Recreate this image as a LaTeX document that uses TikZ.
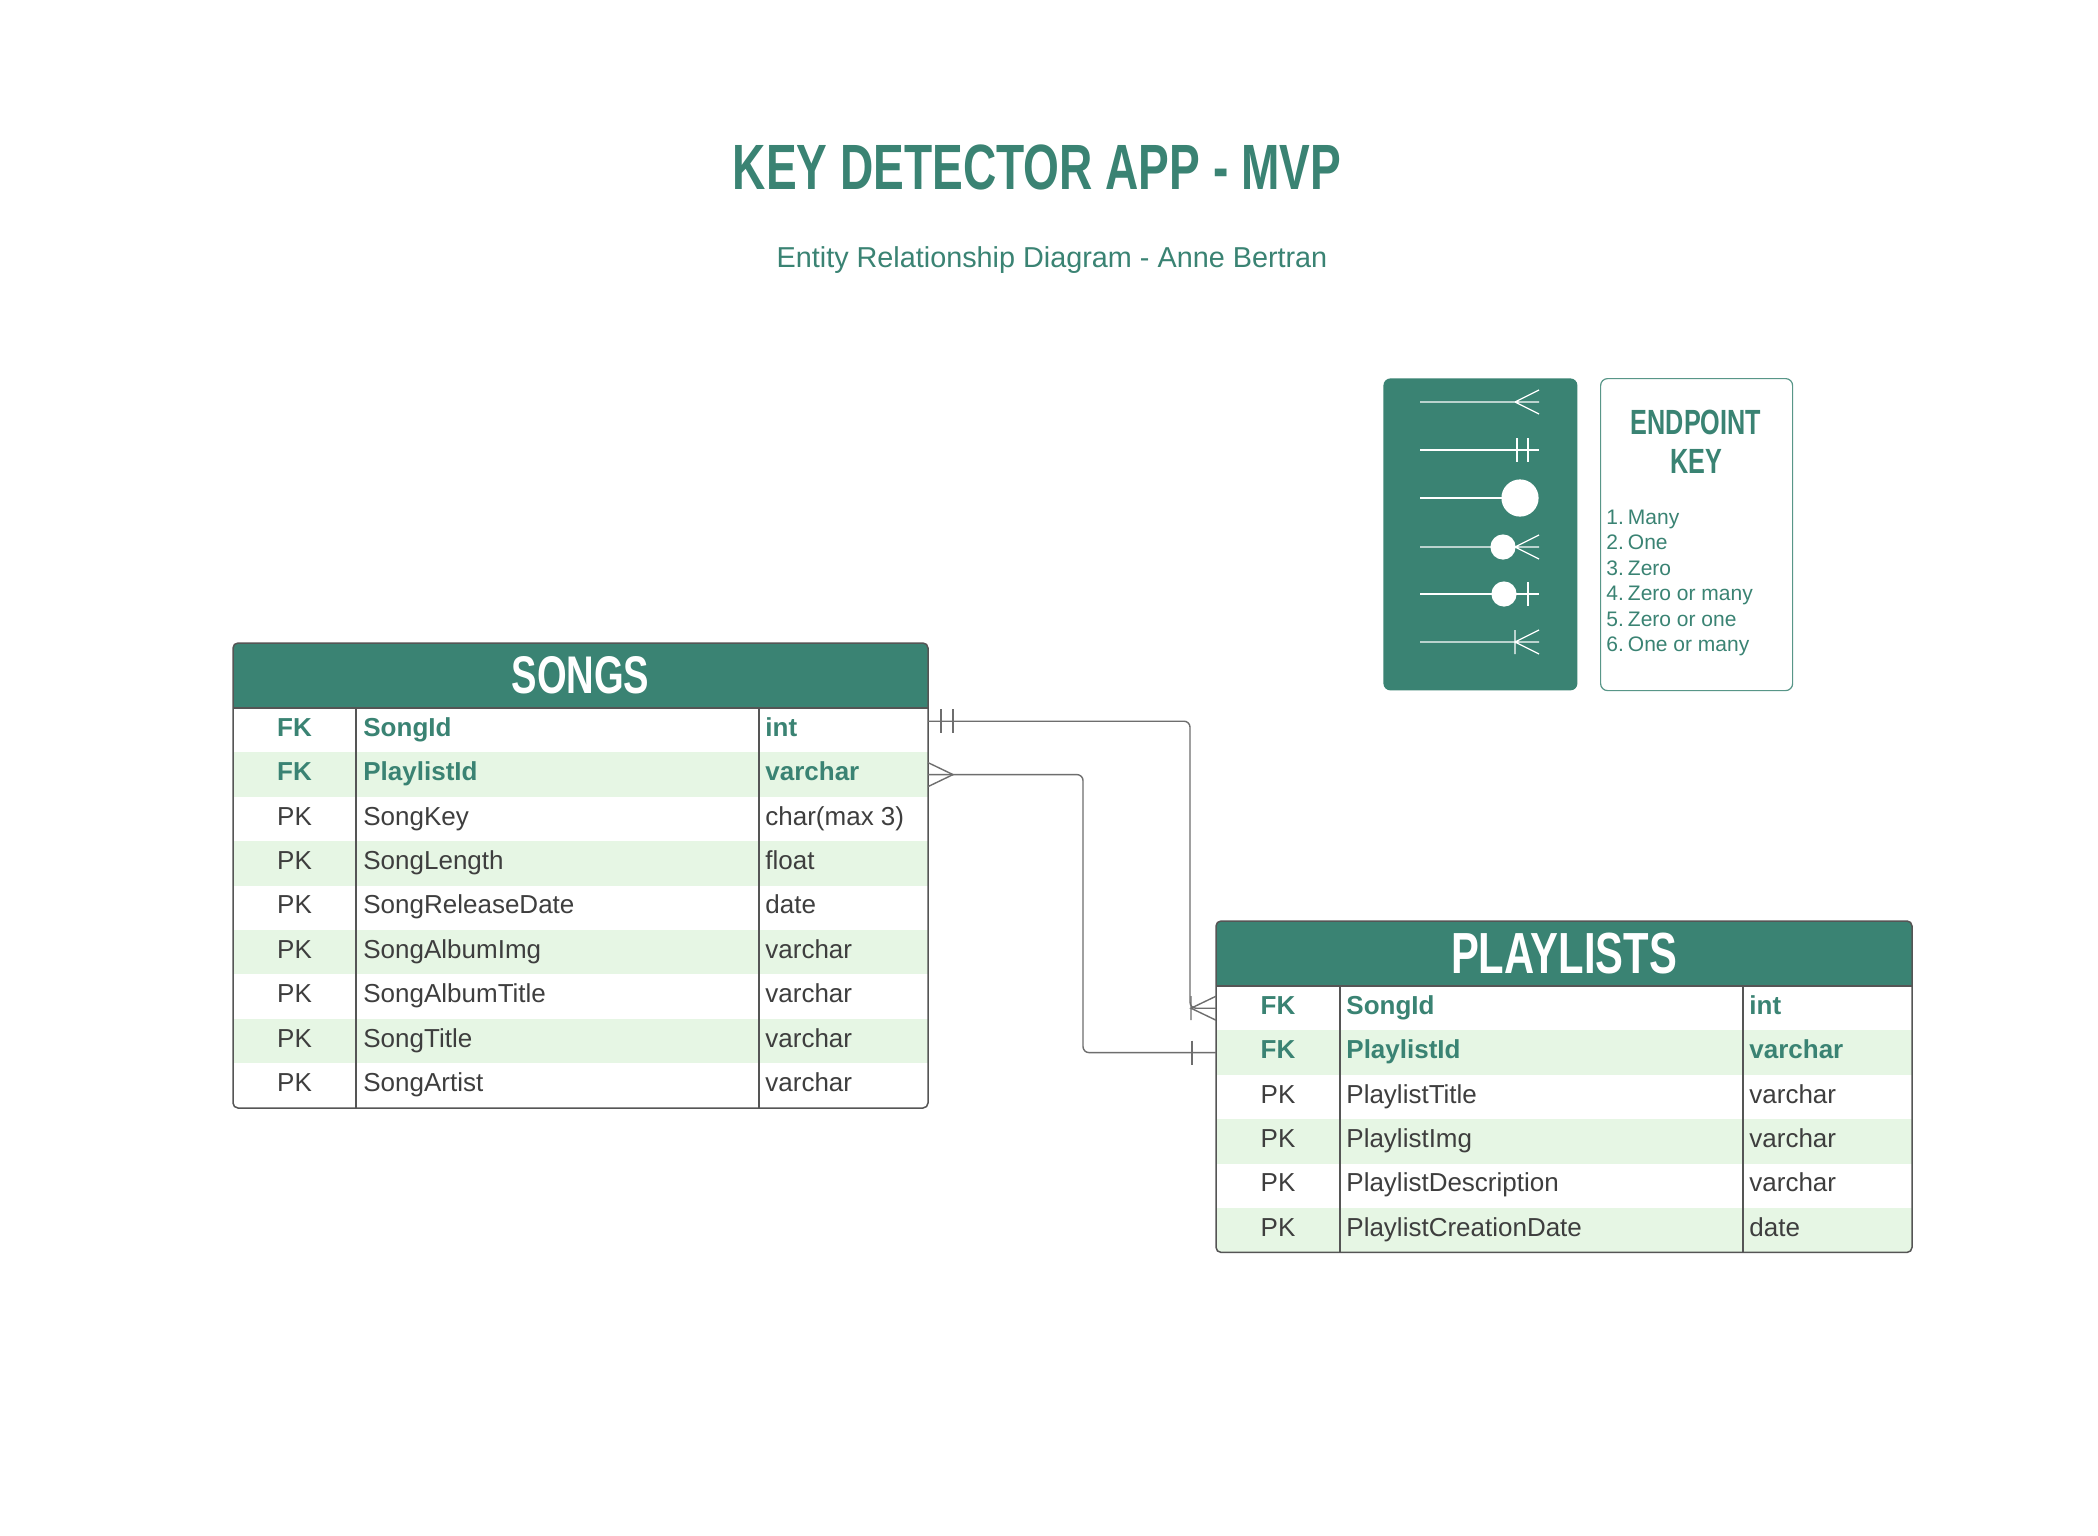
\documentclass[tikz,border=0pt]{standalone}
\usepackage{fontspec}
\usepackage{graphicx}
\setmainfont{Liberation Sans}
\usetikzlibrary{positioning}

\definecolor{tealc}{RGB}{58,131,115}
\definecolor{rowgreen}{RGB}{230,246,228}
\definecolor{inkgray}{RGB}{62,62,62}
\definecolor{linegray}{RGB}{85,85,85}
\definecolor{relgray}{RGB}{110,110,110}

\newcommand{\grunge}[1]{\scalebox{0.72}[1]{\bfseries #1}}

\tikzset{
    headbox/.style={fill=tealc, text=white, inner sep=0pt, outer sep=0pt, minimum height=32.5pt},
    rowbox/.style={inner sep=0pt, outer sep=0pt, minimum height=22.2pt},
    cell/.style={inner sep=0pt, anchor=base west, font=\fontsize{13}{15}\selectfont},
    FK/.style={text=tealc, font=\fontsize{13}{15}\selectfont\bfseries},
    PK/.style={text=inkgray},
    tableline/.style={draw=linegray, line width=0.75pt},
    rel/.style={draw=relgray, line width=0.7pt},
    keyline/.style={draw=white, line width=0.65pt},
    keyhead/.style={text=tealc, inner sep=0pt, font=\fontsize{17.5}{20}\selectfont},
    keyitem/.style={text=tealc, inner sep=0pt, anchor=base west, font=\fontsize{10.5}{12}\selectfont}
}

\begin{document}
\begin{tikzpicture}[x=0.5pt, y=-0.5pt]
        \fill[white] (0,0) rectangle (2098,1536);
        \useasboundingbox (0,0) rectangle (2098,1536);

        \node[text=tealc, inner sep=0pt, font=\fontsize{32}{36}\selectfont] (title) at (1037,167) {\grunge{KEY DETECTOR APP - MVP}};
        \node[text=tealc, inner sep=0pt, anchor=base, font=\fontsize{14.4}{16}\selectfont] (subtitle) at (1052,267) {Entity Relationship Diagram - Anne Bertran};

        \begin{scope}
            \clip[rounded corners=2.5pt] (233,643) rectangle (928,1108);
            \node[headbox, minimum width=347.5pt, font=\fontsize{26.5}{30}\selectfont] (songs) at (580.5,675.5) {\grunge{SONGS}};
            \foreach \k/\nm/\ty [count=\i] in {FK/SongId/int, FK/PlaylistId/varchar, PK/SongKey/char(max 3), PK/SongLength/float, PK/SongReleaseDate/date, PK/SongAlbumImg/varchar, PK/SongAlbumTitle/varchar, PK/SongTitle/varchar, PK/SongArtist/varchar} {
                \ifodd\i\relax \def\rowfill{white}\else \def\rowfill{rowgreen}\fi
                \node[rowbox, fill=\rowfill, minimum width=347.5pt] (s\i) at (580.5,{685.8+44.4*\i}) {};
                \node[cell, \k, anchor=base] (s\i-key) at (294.5,{691.8+44.4*\i}) {\k};
                \node[cell, \k] (s\i-name) at (363,{691.8+44.4*\i}) {\nm};
                \node[cell, \k] (s\i-type) at (765,{691.8+44.4*\i}) {\ty};
            }
        \end{scope}
        \draw[tableline] (songs.south west) -- (songs.south east)
            (356,708) -- (356,1108)
            (759,708) -- (759,1108);
        \draw[tableline, rounded corners=2.5pt] (233,643) rectangle (928,1108);

        \begin{scope}
            \clip[rounded corners=2.5pt] (1216,921) rectangle (1912,1252.4);
            \node[headbox, minimum width=348pt, font=\fontsize{29}{32}\selectfont] (playlists) at (1564,953.5) {\grunge{PLAYLISTS}};
            \foreach \k/\nm/\ty [count=\i] in {FK/SongId/int, FK/PlaylistId/varchar, PK/PlaylistTitle/varchar, PK/PlaylistImg/varchar, PK/PlaylistDescription/varchar, PK/PlaylistCreationDate/date} {
                \ifodd\i\relax \def\rowfill{white}\else \def\rowfill{rowgreen}\fi
                \node[rowbox, fill=\rowfill, minimum width=348pt] (p\i) at (1564,{963.8+44.4*\i}) {};
                \node[cell, \k, anchor=base] (p\i-key) at (1278,{969.8+44.4*\i}) {\k};
                \node[cell, \k] (p\i-name) at (1346,{969.8+44.4*\i}) {\nm};
                \node[cell, \k] (p\i-type) at (1749,{969.8+44.4*\i}) {\ty};
            }
        \end{scope}
        \draw[tableline] (playlists.south west) -- (playlists.south east)
            (1340,986) -- (1340,1252.4)
            (1743,986) -- (1743,1252.4);
        \draw[tableline, rounded corners=2.5pt] (1216,921) rectangle (1912,1252.4);

        \coordinate (songid-end) at ([yshift=4.5pt]s1.east);
        \coordinate (bend1) at (1190,860);
        \coordinate (bend2) at (1083,900);
        \draw[rel, rounded corners=3pt] (songid-end) -| (bend1) |- (p1.west);
        \draw[rel, rounded corners=3pt] (s2.east) -| (bend2) |- (p2.west);

        \draw[rel] ([xshift=6.5pt]songid-end) ++(0,-12) -- ++(0,24)
            ([xshift=12.5pt]songid-end) ++(0,-12) -- ++(0,24);
        \draw[rel] ([yshift=6pt]s2.east) -- ([xshift=12.5pt]s2.east) -- ([yshift=-6pt]s2.east);
        \draw[rel] ([yshift=6pt]p1.west) -- ([xshift=-12.5pt]p1.west) -- ([yshift=-6pt]p1.west)
            ([xshift=-12.5pt,yshift=6pt]p1.west) -- ([xshift=-12.5pt,yshift=-6pt]p1.west);
        \draw[rel] ([xshift=-12pt,yshift=6pt]p2.west) -- ([xshift=-12pt,yshift=-6pt]p2.west);

        \node[fill=tealc, rounded corners=3.5pt, minimum width=97pt, minimum height=156pt, inner sep=0pt, anchor=north west] (notation) at (1383,378) {};
        \node[draw=tealc!85, line width=0.6pt, rounded corners=3.5pt, minimum width=96pt, minimum height=156pt, inner sep=0pt, anchor=north west] (legend) at (1600,378) {};

        \draw[keyline] (1420,402) -- (1539,402) (1539,390) -- (1515,402) -- (1539,414);
        \draw[keyline] (1420,450) -- (1539,450) (1517,438) -- (1517,462) (1528,438) -- (1528,462);
        \draw[keyline] (1420,498) -- (1505,498);
        \fill[white] (1520,498) circle[radius=9.3pt];
        \draw[keyline] (1420,547) -- (1539,547) (1539,535) -- (1515,547) -- (1539,559);
        \fill[white] (1503,547) circle[radius=6.3pt];
        \draw[keyline] (1420,594) -- (1539,594) (1528,582) -- (1528,606);
        \fill[white] (1504,594) circle[radius=6.3pt];
        \draw[keyline] (1420,642) -- (1539,642) (1515,630) -- (1515,654) (1539,630) -- (1515,642) -- (1539,654);

        \node[keyhead] (keytitle) at (1696,422) {\grunge{ENDPOINT}};
        \node[keyhead, below=7pt of keytitle] (keytitle2) {\grunge{KEY}};
        \foreach \t [count=\i] in {Many, One, Zero, Zero or many, Zero or one, One or many}
            \node[keyitem] (item\i) at (1606,{498.5+25.5*\i}) {\i.\hspace{2pt}\t};
\end{tikzpicture}
\end{document}
